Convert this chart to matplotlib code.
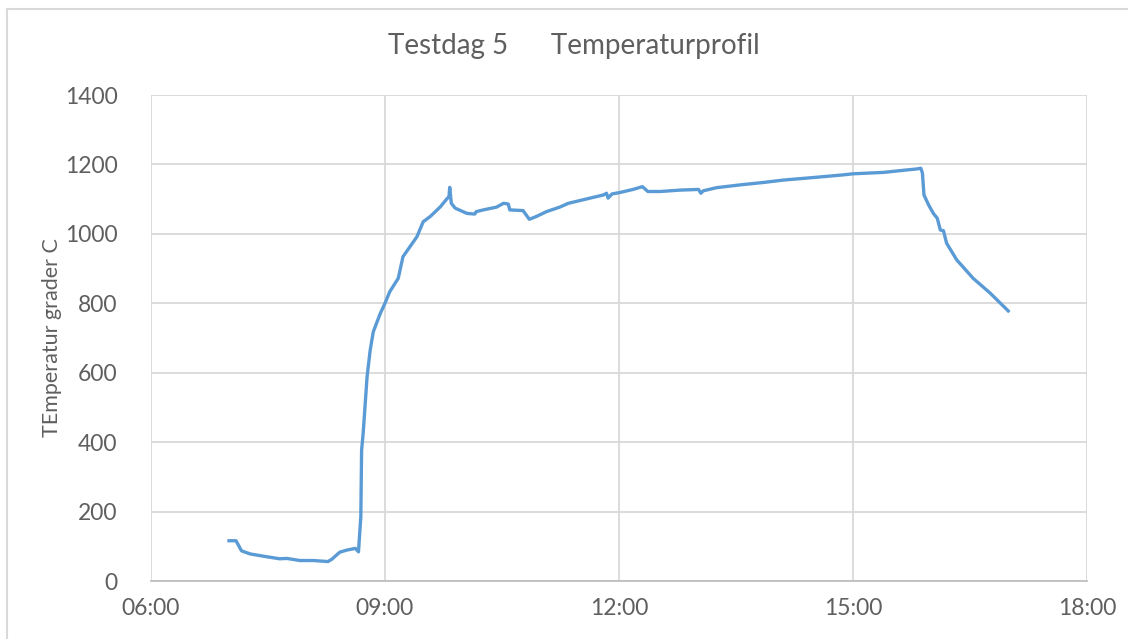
import matplotlib
matplotlib.use("Agg")
import matplotlib.pyplot as plt
from matplotlib.lines import Line2D
from matplotlib.ticker import FixedLocator, FuncFormatter

# ---- data (time in decimal hours, temperature in °C) ----
hours = [7.00, 7.09, 7.16, 7.27, 7.48, 7.65, 7.74, 7.91, 8.08, 8.27, 8.32, 8.42, 8.51,
         8.62, 8.66, 8.69, 8.70, 8.72, 8.77, 8.81, 8.85, 8.94, 9.00, 9.06, 9.17, 9.23,
         9.32, 9.41, 9.49, 9.58, 9.71, 9.79, 9.82, 9.83, 9.85, 9.90, 10.05, 10.15, 10.17,
         10.26, 10.43, 10.52, 10.58, 10.60, 10.77, 10.85, 10.94, 11.07, 11.24, 11.35,
         11.50, 11.63, 11.80, 11.84, 11.86, 11.91, 12.01, 12.18, 12.30, 12.37, 12.53,
         12.78, 13.02, 13.05, 13.08, 13.25, 13.55, 13.85, 14.11, 14.53, 14.88, 15.00,
         15.39, 15.60, 15.82, 15.87, 15.89, 15.91, 15.97, 16.03, 16.08, 16.12, 16.16,
         16.20, 16.33, 16.54, 16.76, 16.99]
temps = [116, 116, 87, 78, 70, 64, 65, 59, 59, 56, 63, 83, 89,
         94, 84, 185, 377, 425, 588, 665, 718, 771, 800, 833, 872, 934,
         963, 992, 1035, 1050, 1078, 1100, 1107, 1134, 1088, 1074, 1059, 1057, 1064,
         1069, 1077, 1088, 1086, 1069, 1067, 1042, 1050, 1064, 1077, 1088,
         1096, 1103, 1112, 1117, 1103, 1115, 1119, 1128, 1136, 1122, 1122,
         1126, 1128, 1117, 1124, 1133, 1141, 1148, 1155, 1163, 1170, 1173,
         1177, 1182, 1187, 1189, 1175, 1112, 1083, 1059, 1045, 1011, 1009,
         973, 925, 872, 829, 778]

x_ticks = [6, 9, 12, 15, 18]
y_ticks = [0, 200, 400, 600, 800, 1000, 1200, 1400]
title = "Testdag 5      Temperaturprofil"
ylabel = "TEmperatur grader C"

W, H = 1128, 639
fig = plt.figure(figsize=(W / 100, H / 100), dpi=100)
ax = fig.add_axes([151 / W, 1 - 581 / H, (1087 - 151) / W, (581 - 95) / H])

txt = "#5f5f5f"
grid = "#D9D9D9"
font = dict(family="Lato", fontweight="normal")

ax.plot(hours, temps, color="#5B9BD5", lw=2.4, solid_joinstyle="round")
ax.set_xlim(6, 18)
ax.set_ylim(0, 1400)
ax.xaxis.set_major_locator(FixedLocator(x_ticks))
ax.yaxis.set_major_locator(FixedLocator(y_ticks))
ax.xaxis.set_major_formatter(FuncFormatter(lambda v, p: f"{int(v):02d}:00"))
ax.grid(True, color=grid, lw=1.3)
ax.set_axisbelow(True)
for s in ["top", "right", "left"]:
    ax.spines[s].set_visible(False)
ax.spines["bottom"].set_color("#BFBFBF")
ax.spines["bottom"].set_linewidth(1.3)
ax.tick_params(length=0, colors=txt, labelsize=16.5)
ax.tick_params(axis="x", pad=12)
ax.tick_params(axis="y", pad=24)
for lab in ax.get_xticklabels() + ax.get_yticklabels():
    lab.set_family("Lato")
    lab.set_fontweight("normal")

fig.text(574 / W, 1 - 46 / H, title, ha="center", va="center", color=txt, fontsize=20, **font)
fig.text(52 / W, 1 - 338 / H, ylabel, ha="center", va="center", rotation=90, color=txt, fontsize=15.5, **font)

# outer chart frame (partly cropped)
fig.add_artist(Line2D([7 / W, 7 / W], [1 - 9 / H, 0], color=grid, lw=1.5, transform=fig.transFigure))
fig.add_artist(Line2D([7 / W, 1], [1 - 9 / H, 1 - 9 / H], color=grid, lw=1.5, transform=fig.transFigure))

fig.savefig("out.png", dpi=100)
